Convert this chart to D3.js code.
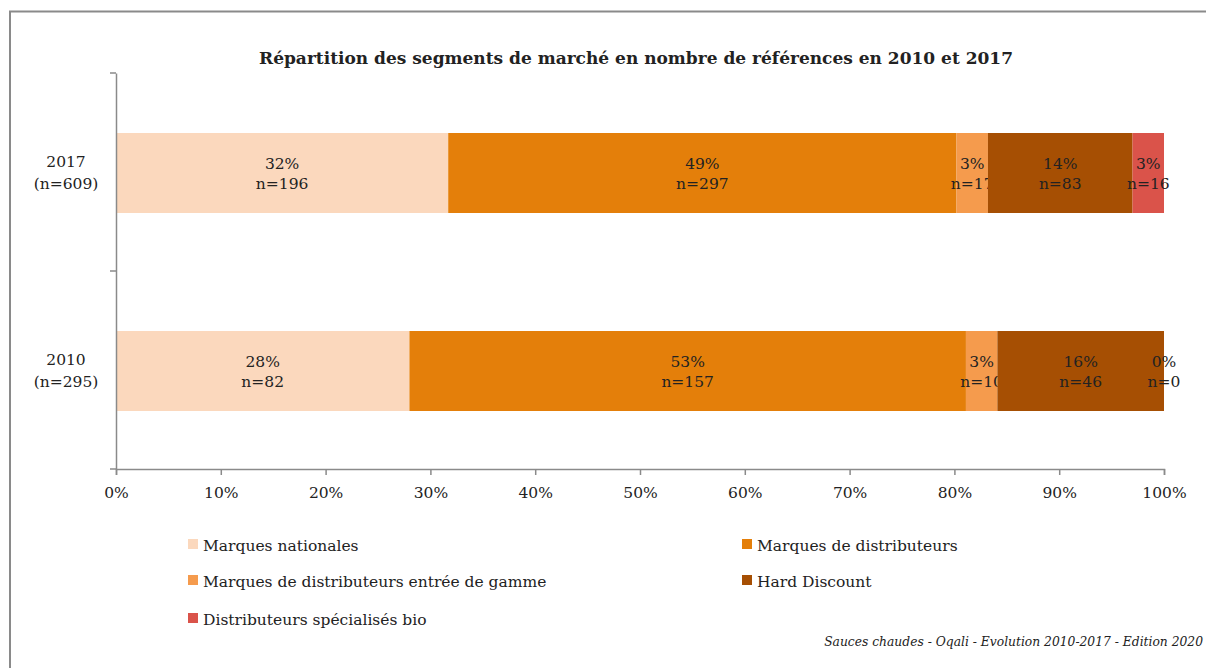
<!DOCTYPE html>
<html>
<head>
<meta charset="utf-8">
<script src="https://cdn.jsdelivr.net/npm/d3@7"></script>
<style>
  body { margin: 0; background: #fff; }
  svg { display: block; }
  text { font-family: "DejaVu Serif", "Liberation Serif", serif; fill: #222; }
</style>
</head>
<body>
<svg width="1206" height="668"></svg>
<script>
// chart values
const years = ['2017', '2010'];
const totals = [609, 295];
const segments = ['Marques nationales', 'Marques de distributeurs', 'Marques de distributeurs entrée de gamme', 'Hard Discount', 'Distributeurs spécialisés bio'];
const colors = ['#FBD8BD', '#E47F0A', '#F59B4D', '#A64F03', '#DA534A'];
const counts2017 = [196, 297, 17, 83, 16];
const counts2010 = [82, 157, 10, 46, 0];
const share2017 = [31.7, 48.5, 3.0, 13.8, 3.0];
const share2010 = [28.0, 53.1, 3.0, 15.9, 0];
const pctLabels2017 = ['32%', '49%', '3%', '14%', '3%'];
const pctLabels2010 = ['28%', '53%', '3%', '16%', '0%'];
const xTicks = [0, 10, 20, 30, 40, 50, 60, 70, 80, 90, 100];

const svg = d3.select('svg');
const width = +svg.attr('width');
const height = +svg.attr('height');
const fontSize = 15.5;

// frame
svg.append('path')
    .attr('d', `M10,${height} V11.5 H${width}`)
    .attr('fill', 'none')
    .attr('stroke', '#8a8a8a')
    .attr('stroke-width', 2);

const margin = {top: 73, left: 116, right: 42, bottom: 199};
const innerWidth = width - margin.left - margin.right;
const innerHeight = height - margin.top - margin.bottom;

const g = svg.append('g')
    .attr('transform', `translate(${margin.left},${margin.top})`);

const xScale = d3.scaleLinear().domain([0, 100]).range([0, innerWidth]);
const yScale = d3.scaleBand().domain(years).range([0, innerHeight]);
const barH = 80;

// build rows
const rows = years.map((y, i) => {
    const shares = i === 0 ? share2017 : share2010;
    const cnt = i === 0 ? counts2017 : counts2010;
    const lab = i === 0 ? pctLabels2017 : pctLabels2010;
    let acc = 0;
    return segments.map((s, j) => {
        const d = {year: y, seg: s, i: j, x0: acc, x1: acc + shares[j], n: cnt[j], pct: lab[j]};
        acc += shares[j];
        return d;
    });
}).flat();

const bars = g.selectAll('g.seg').data(rows).enter().append('g').attr('class', 'seg');

bars.append('rect')
    .attr('x', d => xScale(d.x0))
    .attr('width', d => xScale(d.x1) - xScale(d.x0))
    .attr('y', d => yScale(d.year) + yScale.bandwidth() / 2 - barH / 2 + 1)
    .attr('height', barH)
    .attr('fill', d => colors[d.i]);

const labelText = bars.append('text')
    .attr('text-anchor', 'middle')
    .attr('font-size', fontSize)
    .attr('x', d => xScale((d.x0 + d.x1) / 2))
    .attr('y', d => yScale(d.year) + yScale.bandwidth() / 2 - 3);
labelText.append('tspan').text(d => d.pct);
labelText.append('tspan')
    .attr('x', d => xScale((d.x0 + d.x1) / 2))
    .attr('dy', 20)
    .text(d => 'n=' + d.n);

// y axis
const yAxis = d3.axisLeft(yScale).tickSize(0).tickFormat('');
const yAxisG = g.append('g').call(yAxis);
yAxisG.select('.domain').attr('stroke', '#8a8a8a').attr('stroke-width', 1.5);
// separators between categories
g.selectAll('line.ysep').data([0, yScale.bandwidth(), innerHeight]).enter().append('line')
    .attr('x1', -6).attr('x2', 0)
    .attr('y1', d => d).attr('y2', d => d)
    .attr('stroke', '#8a8a8a').attr('stroke-width', 1.5);

years.forEach((y, i) => {
    const t = g.append('text')
        .attr('text-anchor', 'middle')
        .attr('font-size', fontSize)
        .attr('x', -50)
        .attr('y', yScale(y) + yScale.bandwidth() / 2 - 5);
    t.append('tspan').text(y);
    t.append('tspan').attr('x', -50).attr('dy', 22).text(`(n=${totals[i]})`);
});

// x axis
const xAxis = d3.axisBottom(xScale)
    .tickValues(xTicks)
    .tickFormat(d => d + '%')
    .tickSize(6)
    .tickSizeOuter(6);
const xAxisG = g.append('g')
    .attr('transform', `translate(0,${innerHeight})`)
    .call(xAxis);
xAxisG.select('.domain').attr('stroke', '#8a8a8a').attr('stroke-width', 1.5);
xAxisG.selectAll('.tick line').attr('stroke', '#8a8a8a').attr('stroke-width', 1.5);
xAxisG.selectAll('.tick text')
    .attr('font-family', '"DejaVu Serif", serif')
    .attr('font-size', fontSize)
    .attr('fill', '#222')
    .attr('dy', '1.3em');

// title
svg.append('text')
    .attr('x', 636)
    .attr('y', 64)
    .attr('text-anchor', 'middle')
    .attr('font-size', 17)
    .attr('font-weight', 'bold')
    .text('Répartition des segments de marché en nombre de références en 2010 et 2017');

// legend
const legendPos = [[188, 545], [742, 545], [188, 581], [742, 581], [188, 619]];
const lg = svg.selectAll('g.legend').data(segments).enter().append('g')
    .attr('class', 'legend')
    .attr('transform', (d, i) => `translate(${legendPos[i][0]},${legendPos[i][1]})`);
lg.append('rect')
    .attr('x', 0).attr('y', -6)
    .attr('width', 10).attr('height', 10)
    .attr('fill', (d, i) => colors[i]);
lg.append('text')
    .attr('x', 15)
    .attr('y', 6)
    .attr('font-size', fontSize)
    .text(d => d);

// source
svg.append('text')
    .attr('x', 1203)
    .attr('y', 646)
    .attr('text-anchor', 'end')
    .attr('font-size', 12.3)
    .attr('font-style', 'italic')
    .text('Sauces chaudes - Oqali - Evolution 2010-2017 - Edition 2020');
</script>
</body>
</html>
